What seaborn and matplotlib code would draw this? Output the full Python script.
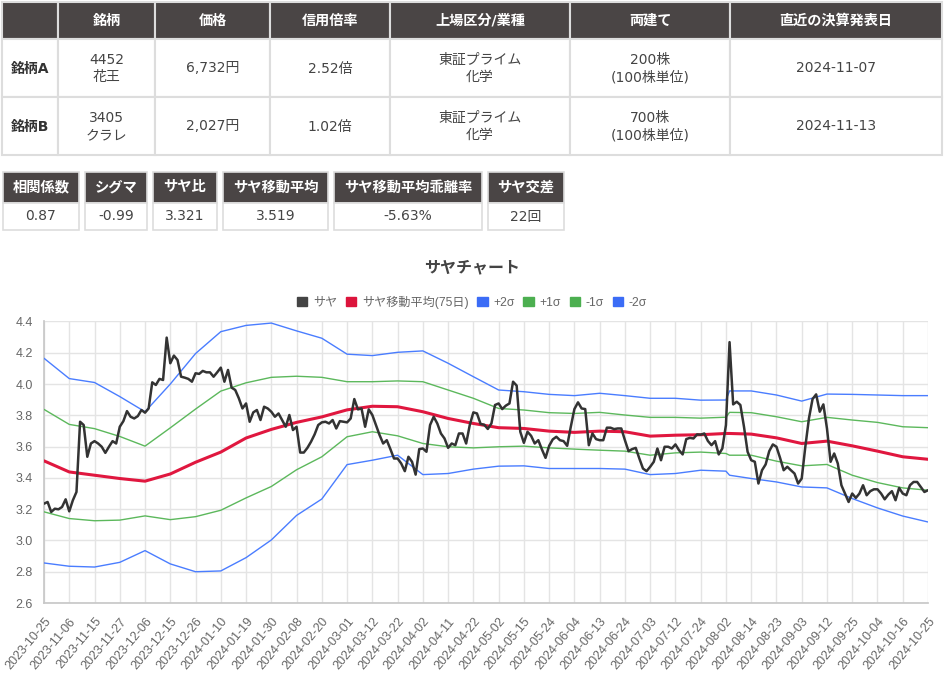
# サヤチャート (pair ratio chart) with the pair summary table on top
import numpy as np
import matplotlib
matplotlib.use("Agg")
import matplotlib.pyplot as plt
from matplotlib.patches import Rectangle, Patch
import seaborn as sns

sns.set_theme(style="white")
plt.rcParams['font.family'] = ['Liberation Sans', 'Noto Sans CJK JP', 'DejaVu Sans']
TABLE_FONT = ['DejaVu Sans', 'Noto Sans CJK JP']

# --- table contents ---
table_header = ["", "銘柄", "価格", "信用倍率", "上場区分/業種", "両建て", "直近の決算発表日"]
row_a = ["銘柄A", "4452\n花王", "6,732円", "2.52倍", "東証プライム\n化学", "200株\n(100株単位)", "2024-11-07"]
row_b = ["銘柄B", "3405\nクラレ", "2,027円", "1.02倍", "東証プライム\n化学", "700株\n(100株単位)", "2024-11-13"]

stat_names = ["相関係数", "シグマ", "サヤ比", "サヤ移動平均", "サヤ移動平均乖離率", "サヤ交差"]
stat_values = ["0.87", "-0.99", "3.321", "3.519", "-5.63%", "22回"]

# --- chart data (one value per trading day, 2023-10-25 .. 2024-10-25) ---
saya = [
    3.235, 3.246, 3.182, 3.203, 3.199, 3.214, 3.263, 3.186, 3.257, 3.310,
    3.759, 3.738, 3.535, 3.620, 3.635, 3.620, 3.599, 3.560, 3.599, 3.635,
    3.620, 3.727, 3.763, 3.827, 3.791, 3.780, 3.795, 3.834, 3.817, 3.844,
    4.011, 3.994, 4.033, 4.026, 4.297, 4.133, 4.182, 4.154, 4.047, 4.041,
    4.033, 4.015, 4.069, 4.065, 4.084, 4.075, 4.075, 4.047, 4.075, 4.105,
    4.015, 4.090, 3.977, 3.962, 3.909, 3.844, 3.876, 3.759, 3.819, 3.834,
    3.770, 3.855, 3.844, 3.823, 3.791, 3.812, 3.770, 3.727, 3.802, 3.706,
    3.727, 3.562, 3.562, 3.592, 3.631, 3.678, 3.738, 3.755, 3.759, 3.748,
    3.770, 3.716, 3.763, 3.759, 3.755, 3.780, 3.904, 3.838, 3.844, 3.727,
    3.838, 3.802, 3.738, 3.674, 3.620, 3.641, 3.584, 3.524, 3.524, 3.492,
    3.443, 3.535, 3.503, 3.421, 3.584, 3.588, 3.567, 3.738, 3.791, 3.748,
    3.684, 3.652, 3.592, 3.620, 3.609, 3.684, 3.684, 3.620, 3.738, 3.819,
    3.812, 3.745, 3.740, 3.713, 3.748, 3.866, 3.876, 3.840, 3.862, 3.876,
    4.015, 3.990, 3.695, 3.624, 3.695, 3.669, 3.620, 3.641, 3.582, 3.528,
    3.605, 3.646, 3.663, 3.641, 3.635, 3.605, 3.727, 3.840, 3.883, 3.844,
    3.840, 3.609, 3.684, 3.648, 3.641, 3.641, 3.721, 3.721, 3.712, 3.716,
    3.716, 3.641, 3.571, 3.584, 3.592, 3.524, 3.460, 3.443, 3.471, 3.503,
    3.588, 3.513, 3.599, 3.599, 3.588, 3.614, 3.577, 3.550, 3.648, 3.656,
    3.652, 3.678, 3.676, 3.684, 3.636, 3.609, 3.635, 3.550, 3.588, 3.738,
    4.268, 3.870, 3.887, 3.866, 3.727, 3.567, 3.513, 3.503, 3.364, 3.449,
    3.486, 3.571, 3.614, 3.599, 3.528, 3.449, 3.471, 3.449, 3.428, 3.364,
    3.396, 3.599, 3.780, 3.904, 3.934, 3.823, 3.870, 3.716, 3.503, 3.556,
    3.492, 3.353, 3.300, 3.246, 3.300, 3.272, 3.300, 3.353, 3.289, 3.315,
    3.327, 3.327, 3.300, 3.263, 3.293, 3.315, 3.257, 3.336, 3.300, 3.289,
    3.353, 3.374, 3.374, 3.342, 3.310, 3.321,
]

# bands read at the labelled days (plus the day after the August jump)
band_days = [0, 7, 14, 21, 28, 35, 42, 49, 56, 63, 70, 77, 84, 91, 98, 105,
             112, 119, 126, 133, 140, 147, 154, 161, 168, 175, 182, 189, 190,
             196, 203, 210, 217, 224, 231, 238, 245]
saya_ma = [3.509, 3.438, 3.417, 3.396, 3.379, 3.425, 3.500, 3.565, 3.655, 3.710,
           3.755, 3.790, 3.835, 3.858, 3.855, 3.823, 3.780, 3.748, 3.721, 3.716,
           3.699, 3.691, 3.699, 3.695, 3.667, 3.673, 3.676, 3.684, 3.684,
           3.680, 3.656, 3.620, 3.635, 3.605, 3.571, 3.535, 3.519]
plus_2s = [4.165, 4.035, 4.010, 3.920, 3.823, 4.000, 4.195, 4.335, 4.375, 4.390,
           4.340, 4.293, 4.191, 4.182, 4.203, 4.212, 4.133, 4.047, 3.962, 3.951,
           3.934, 3.926, 3.941, 3.926, 3.909, 3.909, 3.897, 3.898, 3.956,
           3.956, 3.930, 3.891, 3.936, 3.934, 3.930, 3.926, 3.926]
plus_1s = [3.838, 3.742, 3.715, 3.665, 3.603, 3.720, 3.840, 3.955, 4.008, 4.043,
           4.050, 4.043, 4.015, 4.015, 4.020, 4.015, 3.962, 3.909, 3.844, 3.834,
           3.817, 3.812, 3.819, 3.802, 3.787, 3.787, 3.782, 3.788, 3.819,
           3.817, 3.791, 3.759, 3.787, 3.770, 3.755, 3.727, 3.721]
minus_1s = [3.183, 3.140, 3.126, 3.130, 3.157, 3.133, 3.152, 3.193, 3.272, 3.345,
            3.452, 3.535, 3.663, 3.695, 3.669, 3.620, 3.599, 3.592, 3.599, 3.603,
            3.592, 3.584, 3.577, 3.571, 3.545, 3.560, 3.565, 3.556, 3.545,
            3.545, 3.507, 3.477, 3.486, 3.417, 3.370, 3.336, 3.321]
minus_2s = [2.856, 2.835, 2.830, 2.860, 2.935, 2.850, 2.800, 2.805, 2.890, 3.003,
            3.160, 3.265, 3.485, 3.513, 3.545, 3.421, 3.428, 3.456, 3.475, 3.477,
            3.460, 3.460, 3.460, 3.456, 3.421, 3.428, 3.449, 3.443, 3.417,
            3.396, 3.374, 3.342, 3.336, 3.268, 3.208, 3.156, 3.118]

tick_labels = [
    "2023-10-25", "2023-11-06", "2023-11-15", "2023-11-27", "2023-12-06", "2023-12-15",
    "2023-12-26", "2024-01-10", "2024-01-19", "2024-01-30", "2024-02-08", "2024-02-20",
    "2024-03-01", "2024-03-12", "2024-03-22", "2024-04-02", "2024-04-11", "2024-04-22",
    "2024-05-02", "2024-05-15", "2024-05-24", "2024-06-04", "2024-06-13", "2024-06-24",
    "2024-07-03", "2024-07-12", "2024-07-24", "2024-08-02", "2024-08-14", "2024-08-23",
    "2024-09-03", "2024-09-12", "2024-09-25", "2024-10-04", "2024-10-16", "2024-10-25",
]

HEAD = '#4a4545'
BORDER = '#dddddd'
TXT = '#444444'
BLUE = '#4a7dff'
GREEN = '#5cb85c'
RED = '#e0173f'
DARK = '#333333'

fig = plt.figure(figsize=(9.44, 6.79), dpi=100)

# pixel-coordinate layer for the table, stat boxes and title
deco = fig.add_axes([0, 0, 1, 1])
deco.set_xlim(0, 944)
deco.set_ylim(679, 0)
deco.axis('off')

col_edges = [2, 58, 155, 270, 390, 570, 730, 942]
row_edges = [2, 39, 97, 155]
rows = [table_header, row_a, row_b]
for r, cells in enumerate(rows):
    y0, y1 = row_edges[r], row_edges[r + 1]
    for c, txt in enumerate(cells):
        x0, x1 = col_edges[c], col_edges[c + 1]
        face = HEAD if r == 0 else 'white'
        deco.add_patch(Rectangle((x0, y0), x1 - x0, y1 - y0, facecolor=face,
                                 edgecolor=BORDER, lw=1.5))
        if r == 0:
            color, weight, size = 'white', 'bold', 10.2
        elif c == 0:
            color, weight, size = '#333333', 'bold', 10.0
        else:
            color, weight, size = TXT, 'normal', 10.0
        deco.text((x0 + x1) / 2 if c > 0 else x0 + 9, (y0 + y1) / 2 + 0.5, txt,
                  ha='center' if c > 0 else 'left', va='center', fontsize=size,
                  color=color, fontweight=weight, linespacing=1.3, family=TABLE_FONT)

box_edges = [(3, 79), (85, 147), (153, 217), (223, 328), (334, 482), (488, 564)]
for (x0, x1), name, val in zip(box_edges, stat_names, stat_values):
    deco.add_patch(Rectangle((x0, 172), x1 - x0, 31, facecolor=HEAD, edgecolor=BORDER, lw=1.2))
    deco.add_patch(Rectangle((x0, 203), x1 - x0, 27, facecolor='white', edgecolor=BORDER, lw=1.2))
    deco.text((x0 + x1) / 2, 187.5, name, ha='center', va='center', fontsize=10.3,
              color='white', fontweight='bold', family=TABLE_FONT)
    deco.text((x0 + x1) / 2, 216.5, val, ha='center', va='center', fontsize=10.0,
              color=TXT, family=TABLE_FONT)

deco.text(472, 268, "サヤチャート", ha='center', va='center', fontsize=11.5,
          fontweight='bold', color='#444444')

# --- chart ---
ax = fig.add_axes([44 / 944, 1 - 603 / 679, 884 / 944, 281.5 / 679])
days = np.arange(len(saya))

sns.lineplot(x=band_days, y=minus_2s, ax=ax, color=BLUE, linewidth=1.0, zorder=3)
sns.lineplot(x=band_days, y=minus_1s, ax=ax, color=GREEN, linewidth=1.0, zorder=3)
sns.lineplot(x=band_days, y=plus_1s, ax=ax, color=GREEN, linewidth=1.0, zorder=3)
sns.lineplot(x=band_days, y=plus_2s, ax=ax, color=BLUE, linewidth=1.0, zorder=3)
sns.lineplot(x=band_days, y=saya_ma, ax=ax, color=RED, linewidth=2.2, zorder=4)
sns.lineplot(x=days, y=saya, ax=ax, color=DARK, linewidth=1.8, zorder=5)

ax.set_xlim(0, len(saya) - 1)
ax.set_ylim(2.6, 4.4)
ax.set_yticks(np.linspace(2.6, 4.4, 10))
ax.set_yticklabels([f"{v:.1f}" for v in np.linspace(2.6, 4.4, 10)])
ax.set_xticks(days[::7])
ax.set_xticklabels(tick_labels, rotation=50, ha='right', rotation_mode='anchor')
ax.set_xlabel("")
ax.set_ylabel("")
ax.grid(True, color='#e4e4e4', linewidth=1)
for side in ['top', 'right']:
    ax.spines[side].set_visible(False)
for side in ['left', 'bottom']:
    ax.spines[side].set_color('#c8c8c8')
ax.tick_params(axis='both', length=6, width=1, color='#e4e4e4', labelcolor='#666666',
               labelsize=9, pad=2)
ax.tick_params(axis='x', pad=3)

handles = [Patch(facecolor='#444444', edgecolor='#444444'),
           Patch(facecolor='#dc143c', edgecolor='#dc143c'),
           Patch(facecolor='#3b6cf6', edgecolor='#3b6cf6'),
           Patch(facecolor='#4caf50', edgecolor='#4caf50'),
           Patch(facecolor='#4caf50', edgecolor='#4caf50'),
           Patch(facecolor='#3b6cf6', edgecolor='#3b6cf6')]
labels = ["サヤ", "サヤ移動平均(75日)", "+2σ", "+1σ", "-1σ", "-2σ"]
fig.legend(handles, labels, loc='center', bbox_to_anchor=(472 / 944, 1 - 302 / 679),
           ncol=6, frameon=False, fontsize=8.7, handlelength=0.85, handleheight=0.85,
           handletextpad=0.5, columnspacing=0.7, labelcolor='#666666')

fig.savefig("out.png", dpi=100)
